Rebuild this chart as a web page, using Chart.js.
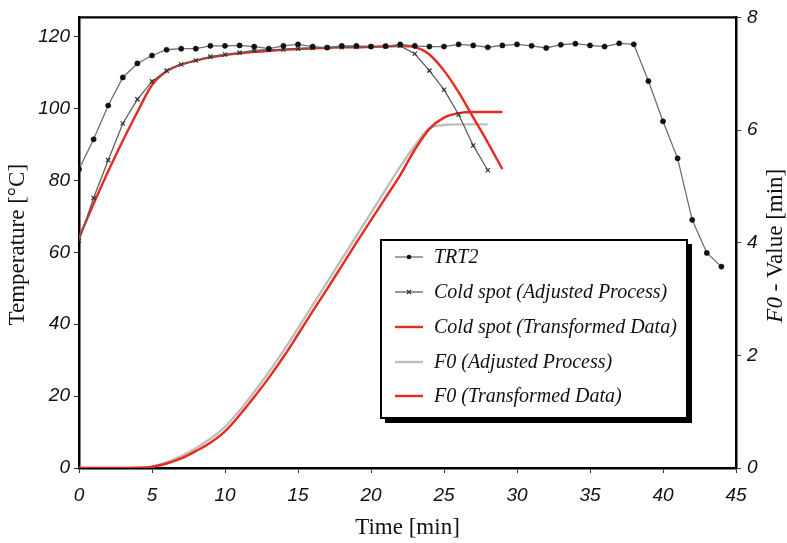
<!DOCTYPE html>
<html><head><meta charset="utf-8">
<script src="https://cdn.jsdelivr.net/npm/chart.js@4"></script>
<style>html,body{margin:0;padding:0;background:#fff}#wrap{width:787px;height:543px;position:relative}</style>
</head><body><div id="wrap"><canvas id="c"></canvas></div>
<script>
// ---- data (time in minutes) ----
const minutes = [0,1,2,3,4,5,6,7,8,9,10,11,12,13,14,15,16,17,18,19,20,21,22,23,24,25,26,27,28,29,30,31,32,33,34,35,36,37,38,39,40,41,42,43,44];
const trtTemp = [83.1,91.4,100.8,108.6,112.5,114.7,116.3,116.6,116.6,117.4,117.4,117.5,117.2,116.6,117.4,117.8,117.2,116.9,117.4,117.4,117.2,117.3,117.8,117.4,117.2,117.2,117.8,117.5,117.0,117.5,117.8,117.4,116.8,117.7,118.0,117.5,117.2,118.1,117.8,107.6,96.4,86.1,69.0,59.8,56.0];
const coldAdjTemp = [63.2,75.1,85.6,95.8,102.5,107.5,110.5,112.2,113.3,114.4,115.0,115.5,116.1,116.3,116.4,116.6,116.8,116.9,117.0,117.1,117.2,117.3,117.4,115.2,110.5,105.2,98.3,89.7,82.8];
const coldTrTemp = [64.0,73.5,82.5,91.0,99.0,106.5,110.3,112.2,113.3,114.2,114.8,115.3,115.7,116.0,116.3,116.5,116.7,116.8,117.0,117.0,117.1,117.2,117.3,117.0,115.0,110.5,104.5,97.5,90.5,83.1];
const f0Adj = [0,0,0,0,0.005,0.03,0.1,0.21,0.35,0.52,0.73,1.02,1.35,1.7,2.08,2.48,2.89,3.3,3.71,4.12,4.53,4.94,5.35,5.72,6.03,6.09,6.1,6.1,6.1];
const f0Tr = [0,0,0,0,0.005,0.02,0.08,0.17,0.3,0.45,0.65,0.94,1.26,1.6,1.97,2.37,2.78,3.18,3.59,4.0,4.4,4.8,5.2,5.65,6.02,6.22,6.3,6.32,6.32,6.32];

const xTicks = [0,5,10,15,20,25,30,35,40,45];
const leftTicks = [0,20,40,60,80,100,120];
const rightTicks = [0,2,4,6,8];
const seriesLabels = ['TRT2','Cold spot (Adjusted Process)','Cold spot (Transformed Data)','F0 (Adjusted Process)','F0 (Transformed Data)'];
const xTitle = 'Time [min]';
const yTitle = 'Temperature [°C]';
const y2TitleItalic = 'F0';
const y2TitleRest = ' - Value [min]';

function pts(vals){ return vals.map((v,i)=>({x:minutes[i], y:v})); }

const RED = '#e8291f';
const tickFont = {family:'"Liberation Sans", Arial, sans-serif', style:'italic', size:19};

const datasets = [
  {label:seriesLabels[0], data:pts(trtTemp), yAxisID:'y', borderColor:'#6e6e6e', borderWidth:1.3,
   pointRadius:2.6, pointStyle:'circle', pointBackgroundColor:'#111', pointBorderColor:'#111', pointBorderWidth:0.5, tension:0, order:1, mk:'dot'},
  {label:seriesLabels[1], data:pts(coldAdjTemp), yAxisID:'y', borderColor:'#5e5e5e', borderWidth:1.3,
   pointRadius:3, pointStyle:'crossRot', pointBorderColor:'#333', pointBorderWidth:1.2, tension:0, order:2, mk:'cross'},
  {label:seriesLabels[2], data:pts(coldTrTemp), yAxisID:'y', borderColor:RED, borderWidth:2.4,
   pointRadius:0, cubicInterpolationMode:'monotone', order:3},
  {label:seriesLabels[3], data:pts(f0Adj), yAxisID:'y2', borderColor:'#bdbdbd', borderWidth:2.4,
   pointRadius:0, cubicInterpolationMode:'monotone', order:5},
  {label:seriesLabels[4], data:pts(f0Tr), yAxisID:'y2', borderColor:RED, borderWidth:2.4,
   pointRadius:0, cubicInterpolationMode:'monotone', order:4}
];

const overlay = {
  id:'overlay',
  afterDraw(chart){
    const ctx = chart.ctx, a = chart.chartArea;
    ctx.save();
    // top frame line
    ctx.strokeStyle = '#000'; ctx.lineWidth = 2.2;
    ctx.beginPath(); ctx.moveTo(a.left-1, a.top); ctx.lineTo(a.right+1, a.top); ctx.stroke();

    const serif = '"Liberation Serif", "Times New Roman", serif';
    ctx.fillStyle = '#111';
    // x title
    ctx.font = '23px ' + serif;
    ctx.textAlign = 'center'; ctx.textBaseline = 'alphabetic';
    ctx.fillText(xTitle, (a.left+a.right)/2, 534);
    // left title
    ctx.save();
    ctx.translate(24, (a.top+a.bottom)/2 + 2);
    ctx.rotate(-Math.PI/2);
    ctx.fillText(yTitle, 0, 0);
    ctx.restore();
    // right title (reads bottom to top)
    ctx.save();
    ctx.translate(782, (a.top+a.bottom)/2 + 3);
    ctx.rotate(-Math.PI/2);
    ctx.textAlign = 'left';
    ctx.font = 'italic 23px ' + serif;
    const w1 = ctx.measureText(y2TitleItalic).width;
    ctx.font = '23px ' + serif;
    const w2 = ctx.measureText(y2TitleRest).width;
    const x0 = -(w1+w2)/2;
    ctx.font = 'italic 23px ' + serif;
    ctx.fillText(y2TitleItalic, x0, 0);
    ctx.font = '23px ' + serif;
    ctx.fillText(y2TitleRest, x0+w1, 0);
    ctx.restore();

    // legend box
    const bx = 381, by = 240, bw = 306, bh = 178;
    ctx.fillStyle = '#000';
    ctx.fillRect(bx+4, by+4, bw+1, bh+1);
    ctx.fillStyle = '#fff';
    ctx.fillRect(bx, by, bw, bh);
    ctx.strokeStyle = '#000'; ctx.lineWidth = 2;
    ctx.strokeRect(bx, by, bw, bh);
    const rowY = [257, 292, 327, 362, 396];
    chart.data.datasets.forEach((ds, i) => {
      const y = rowY[i];
      ctx.strokeStyle = ds.borderColor;
      ctx.lineWidth = ds.borderWidth;
      ctx.beginPath(); ctx.moveTo(395, y); ctx.lineTo(423, y); ctx.stroke();
      if (ds.mk === 'dot') {
        ctx.fillStyle = '#111';
        ctx.beginPath(); ctx.arc(409, y, 2.3, 0, Math.PI*2); ctx.fill();
      } else if (ds.mk === 'cross') {
        ctx.strokeStyle = '#333'; ctx.lineWidth = 1.1;
        ctx.beginPath(); ctx.moveTo(407, y-2); ctx.lineTo(411, y+2); ctx.moveTo(411, y-2); ctx.lineTo(407, y+2); ctx.stroke();
      }
      ctx.fillStyle = '#111';
      ctx.font = 'italic 20px ' + serif;
      ctx.textAlign = 'left'; ctx.textBaseline = 'middle';
      ctx.fillText(ds.label, 434, y+1);
    });
    ctx.restore();
  }
};

new Chart(document.getElementById('c'), {
  type:'line',
  data:{datasets},
  plugins:[overlay],
  options:{
    responsive:true, maintainAspectRatio:false, animation:false,
    layout:{padding:{top:16, left:0, right:0, bottom:0}},
    plugins:{legend:{display:false}, tooltip:{enabled:false}},
    scales:{
      x:{type:'linear', min:0, max:45,
        afterBuildTicks:s=>{ s.ticks = xTicks.map(v=>({value:v})); },
        afterFit:s=>{ s.height = 75; },
        grid:{drawOnChartArea:false, tickLength:5, color:'#333', tickWidth:1},
        border:{display:true, color:'#000', width:2.5},
        ticks:{font:tickFont, color:'#111', padding:11, maxRotation:0, autoSkip:false}
      },
      y:{type:'linear', position:'left', min:0, max:125.3,
        afterBuildTicks:s=>{ s.ticks = leftTicks.map(v=>({value:v})); },
        afterFit:s=>{ s.width = 79; },
        grid:{drawOnChartArea:false, tickLength:5, color:'#333', tickWidth:1},
        border:{display:true, color:'#000', width:2.5},
        ticks:{font:tickFont, color:'#111', padding:4}
      },
      y2:{type:'linear', position:'right', min:0, max:8,
        afterBuildTicks:s=>{ s.ticks = rightTicks.map(v=>({value:v})); },
        afterFit:s=>{ s.width = 51; },
        grid:{drawOnChartArea:false, tickLength:5, color:'#333', tickWidth:1},
        border:{display:true, color:'#000', width:2.5},
        ticks:{font:tickFont, color:'#111', padding:6}
      }
    }
  }
});
</script>
</body></html>
